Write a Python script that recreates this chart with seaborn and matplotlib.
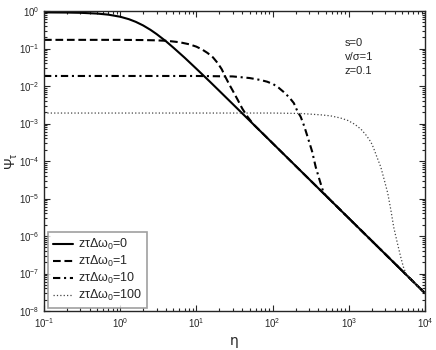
import matplotlib
matplotlib.use("Agg")
import matplotlib.pyplot as plt
import seaborn as sns
import pandas as pd

# ---- data ----
eta_0 = [0.1, 0.2, 0.3, 0.5, 0.7, 1.0, 1.3, 1.6, 2.0, 2.5, 3.0, 4.0, 5.0, 7.0,
         10, 15, 20, 30, 50, 100, 200, 500, 1000, 2000, 5000, 10000]
psi_0 = [0.917, 0.909, 0.895, 0.854, 0.799, 0.703, 0.605, 0.514, 0.412, 0.314,
         0.243, 0.155, 0.105, 0.057, 0.0288, 0.0131, 0.0074, 0.0033, 0.00119,
         2.98e-4, 7.45e-5, 1.19e-5, 2.98e-6, 7.45e-7, 1.19e-7, 2.98e-8]

eta_1 = [0.1, 1.0, 2.0, 3.0, 4.15, 6.0, 8.0, 10, 12, 14, 16.5, 19, 21.5, 24, 27,
         30, 35, 40, 47, 56, 70, 100, 200, 500, 1000, 2000, 5000, 10000]
psi_1 = [0.170, 0.170, 0.168, 0.165, 0.160, 0.147, 0.130, 0.112, 0.093, 0.076,
         0.058, 0.041, 0.028, 0.0175, 0.011, 0.0075, 0.0042, 0.0025, 0.0015,
         9.5e-4, 6.1e-4, 2.98e-4, 7.45e-5, 1.19e-5, 2.98e-6, 7.45e-7, 1.19e-7,
         2.98e-8]

eta_10 = [0.1, 10, 30, 50, 69, 85, 102, 120, 140, 165, 190, 210, 234, 260, 288,
          330, 368, 420, 468, 520, 600, 1000, 2000, 5000, 10000]
psi_10 = [0.0185, 0.0185, 0.018, 0.0163, 0.0145, 0.013, 0.0112, 0.009, 0.0069,
          0.0050, 0.0035, 0.0022, 0.0015, 8.5e-4, 4.4e-4, 1.8e-4, 6.9e-5,
          2.8e-5, 1.4e-5, 1.1e-5, 8.3e-6, 2.98e-6, 7.45e-7, 1.19e-7, 2.98e-8]

eta_100 = [0.1, 100, 234, 430, 575, 780, 977, 1200, 1450, 1700, 1950, 2100, 2300,
           2630, 2900, 3240, 3560, 3890, 4300, 4790, 5200, 5620, 6500, 10000]
psi_100 = [0.0019, 0.0019, 0.00185, 0.0017, 0.0016, 0.0014, 0.0012, 9.5e-4,
           7e-4, 4.8e-4, 3.2e-4, 2.3e-4, 1.4e-4, 6.9e-5, 3.3e-5, 1.4e-5, 5e-6,
           1.7e-6, 7e-7, 2.8e-7, 1.5e-7, 1.0e-7, 7.1e-8, 2.98e-8]

labels = [r"z$\tau\Delta\omega_0$=0", r"z$\tau\Delta\omega_0$=1",
          r"z$\tau\Delta\omega_0$=10", r"z$\tau\Delta\omega_0$=100"]
annot = ["s=0", "v/\u03c3=1", "z=0.1"]

sns.set_style("ticks")
plt.rcParams["font.family"] = ["Liberation Sans", "DejaVu Sans"]
plt.rcParams["mathtext.fontset"] = "custom"
plt.rcParams["mathtext.rm"] = "Liberation Sans"
plt.rcParams["mathtext.it"] = "Liberation Sans"
plt.rcParams["mathtext.default"] = "regular"

fig = plt.figure(figsize=(4.36, 3.5), dpi=100)
ax = fig.add_axes([44 / 436, 1 - 311 / 350, 381 / 436, 300 / 350])

series = [(eta_0, psi_0, "-", 1.5, labels[0], "black"),
          (eta_1, psi_1, (0, (3.7, 1.8)), 1.5, labels[1], "black"),
          (eta_10, psi_10, (0, (3.5, 1.8, 1, 1.8)), 1.5, labels[2], "black"),
          (eta_100, psi_100, (0, (1, 1.7)), 0.9, labels[3], "#444444")]
for ex, py, ls, lw, lab, col in series:
    df = pd.DataFrame({"eta": ex, "psi": py})
    sns.lineplot(data=df, x="eta", y="psi", ax=ax, color=col, linestyle=ls,
                 linewidth=lw, label=lab, sort=False)

ax.set_xscale("log")
ax.set_yscale("log")
ax.set_xlim(0.1, 1e4)
ax.set_ylim(1e-8, 1)
ax.tick_params(which="both", direction="in", top=True, right=True,
               labelsize=7, width=0.8)
ax.tick_params(which="major", length=4)
ax.tick_params(which="minor", length=2)
for sp in ax.spines.values():
    sp.set_linewidth(1.0)

ax.set_xlabel("\u03b7", fontsize=10, labelpad=3, family=["DejaVu Sans"])
ax.set_ylabel(r"$\Psi_\tau$", fontsize=10, labelpad=-1)

for i, t in enumerate(annot):
    ax.text(0.79, 0.895 - i * 0.048, t, transform=ax.transAxes, fontsize=8,
            va="center", ha="left")

leg = ax.legend(loc="lower left", bbox_to_anchor=(0.01, 0.01), fontsize=9,
                frameon=True, fancybox=False, handlelength=1.6,
                handletextpad=0.4, labelspacing=0.15, borderaxespad=0.0,
                borderpad=0.4)
leg.get_frame().set_edgecolor("#888888")
leg.get_frame().set_linewidth(1.2)

fig.savefig("out.png", dpi=100)
